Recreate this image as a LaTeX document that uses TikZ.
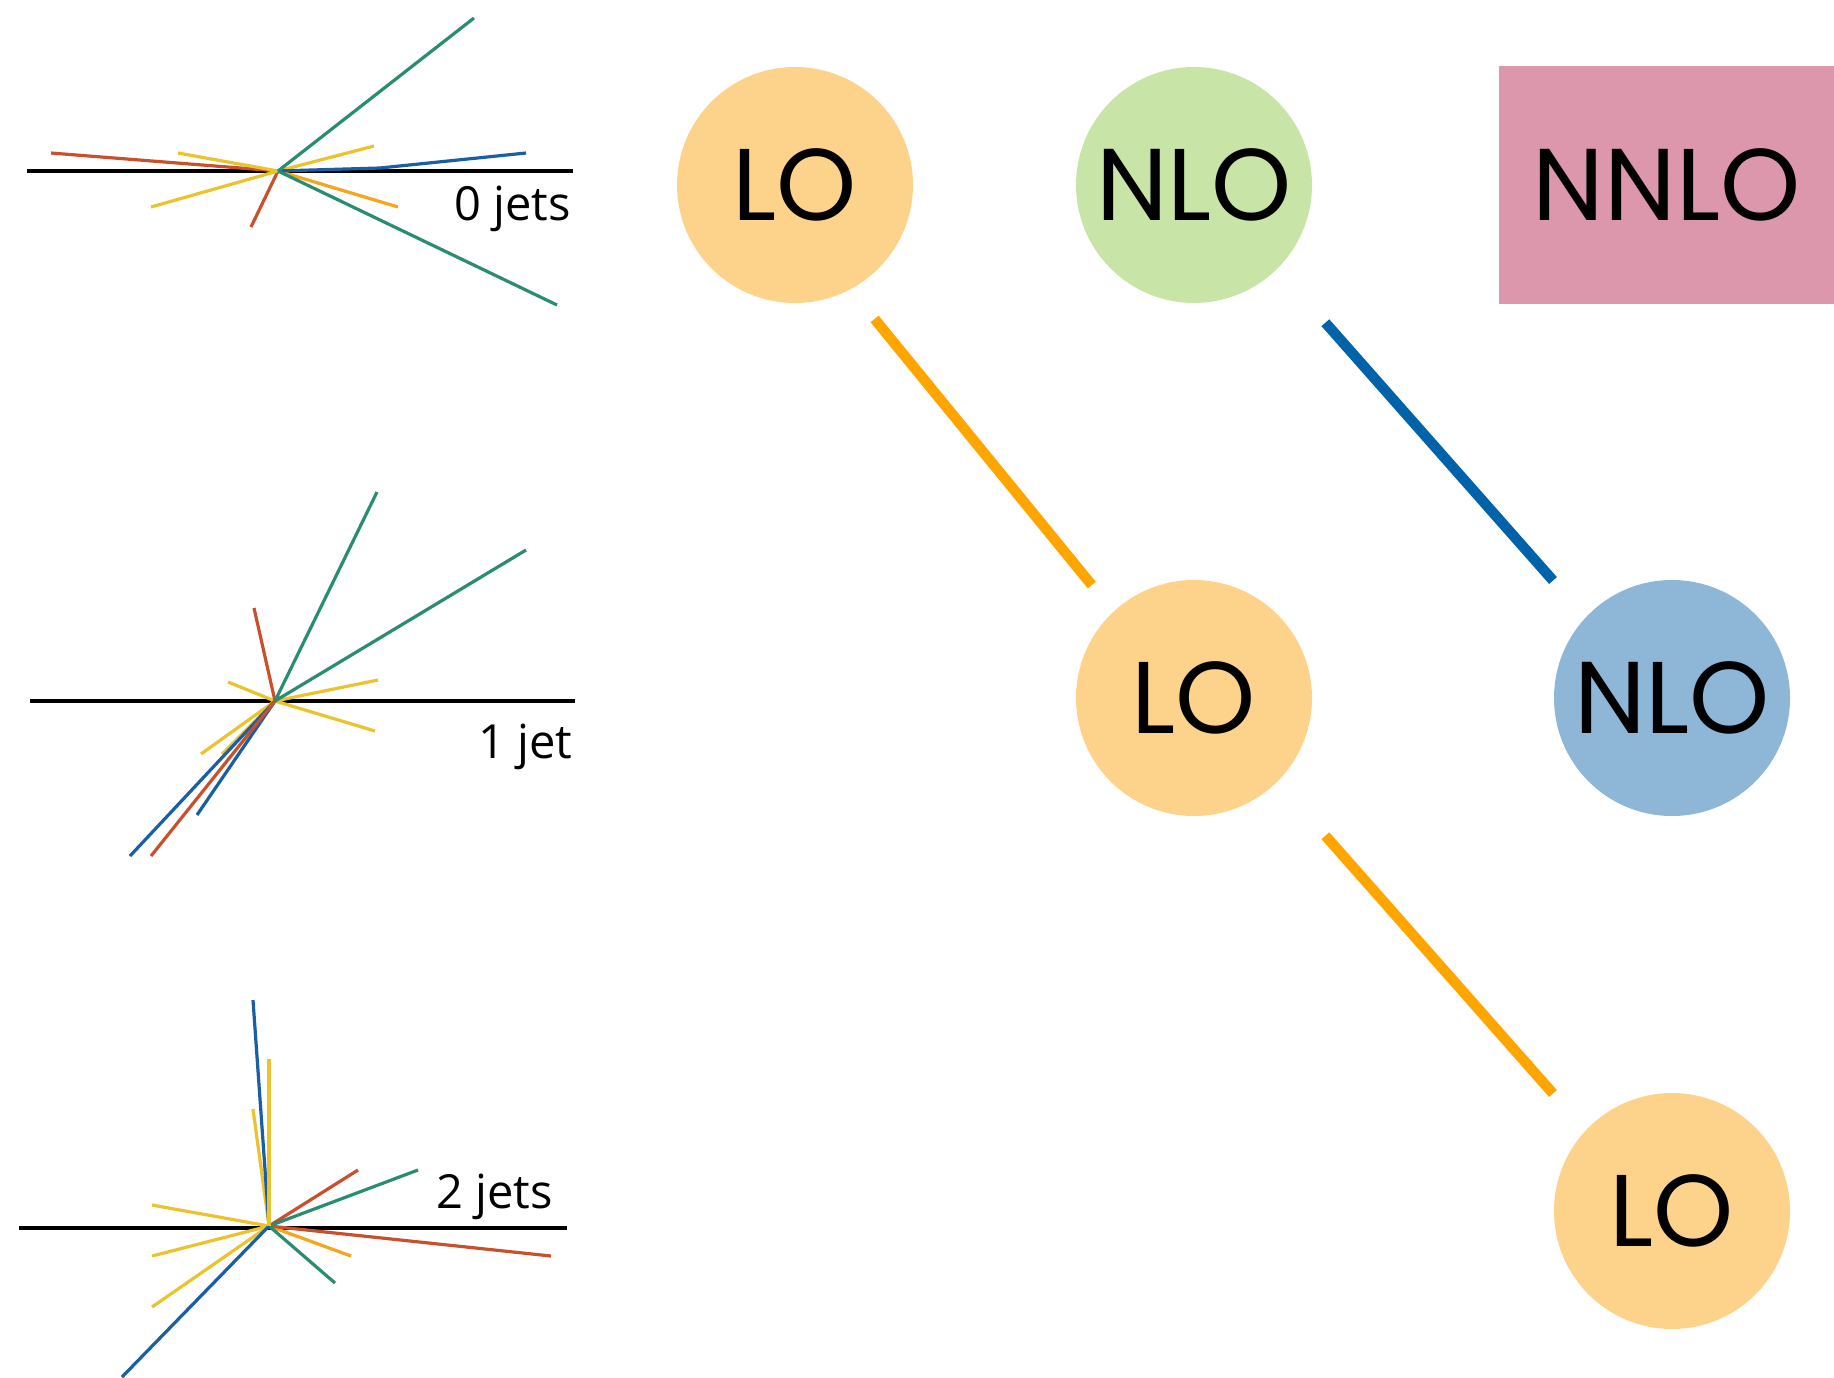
\documentclass[tikz,border=0pt]{standalone}
\usepackage{fontspec}
\setmainfont{Poppins}
\newfontfamily\jetfont{Open Sans}
\definecolor{lofill}{RGB}{253,211,140}
\definecolor{nlogreen}{RGB}{200,229,167}
\definecolor{nloblue}{RGB}{141,182,215}
\definecolor{nnlopink}{RGB}{220,151,172}
\definecolor{linkorange}{RGB}{255,165,0}
\definecolor{linkblue}{RGB}{0,99,170}
\definecolor{trkgreen}{RGB}{42,140,112}
\definecolor{trkred}{RGB}{200,80,45}
\definecolor{trkyellow}{RGB}{235,195,45}
\definecolor{trkorange}{RGB}{245,165,30}
\definecolor{trkblue}{RGB}{25,95,165}

\begin{document}
\begin{tikzpicture}[x=0.5pt,y=-0.5pt,node distance=256.5pt]
\tikzstyle{blob}=[circle, minimum size=118pt, inner sep=0pt, font=\fontsize{51}{51}\selectfont]
\tikzstyle{lo}=[blob, fill=lofill]
\tikzstyle{nlo}=[blob, fill=nlogreen]
\tikzstyle{nnlo}=[rectangle, minimum width=167.5pt, minimum height=119pt, inner sep=0pt, fill=nnlopink, font=\fontsize{51}{51}\selectfont]
\tikzstyle{oline}=[draw=linkorange, line width=5.2pt]
\tikzstyle{bline}=[draw=linkblue, line width=5.2pt]
\tikzstyle{axis}=[line width=1.8pt]
\tikzstyle{trk}=[line width=1.6pt]
\tikzstyle{jetlabel}=[anchor=base east, inner sep=0pt, font=\jetfont\fontsize{23.5}{24}\selectfont]

\useasboundingbox (0,0) rectangle (1834,1377);

% perturbative orders
\node (lo0) [lo] at (795,185) {LO};
\node (nlo0) [nlo,right of=lo0,node distance=199.5pt] {NLO};
\node (nnlo0) [nnlo,right of=nlo0,node distance=236.25pt] {NNLO};
\node (lo1) [lo,below of=nlo0] {LO};
\node (nlo1) [nlo,fill=nloblue,right of=lo1,node distance=239pt] {NLO};
\node (lo2) [lo,below of=nlo1] {LO};

\draw[oline,shorten <=19pt,shorten >=17pt] (lo0.-62) -- (lo1.133);
\draw[bline,shorten <=36pt,shorten >=24.5pt] (nlo0.-45) -- (nlo1.137);
\draw[oline,shorten <=36pt,shorten >=24.5pt] (lo1.-45) -- (lo2.137);

% 0 jets
\coordinate (v0) at (278,171);
\draw[axis] (27,171) -- (573,171);
\draw[trk,trkred] (v0) -- (51,153) (v0) -- (251,227);
\draw[trk,trkyellow] (v0) -- (178,153) (v0) -- (151,207) (v0) -- (374,146);
\draw[trk,trkorange] (v0) -- (398,207);
\draw[trk,trkblue] (v0) -- (380,168) -- (526,153);
\draw[trk,trkgreen] (v0) -- (474,18) (v0) -- (557,305);
\node[jetlabel] (lab0) at (571,220) {0 jets};

% 1 jet
\coordinate (v1) at (275,701);
\draw[axis] (30,701) -- (575,701);
\draw[trk,trkyellow] (v1) -- (228,682) (v1) -- (378,680) (v1) -- (375,731) (v1) -- (201,754) (v1) -- (222,754);
\draw[trk,trkblue] (v1) -- (130,856) (v1) -- (197,815);
\draw[trk,trkred] (v1) -- (254,608) (v1) -- (151,856);
\draw[trk,trkgreen] (v1) -- (377,492) (v1) -- (526,550);
\node[jetlabel] (lab1) at (573,758) {1 jet};

% 2 jets
\coordinate (v2) at (269,1226);
\draw[axis] (19,1228) -- (567,1228);
\draw[trk,trkyellow] (v2) -- (152,1205) (v2) -- (152,1256) (v2) -- (152,1307) (v2) -- (253,1109);
\draw[trk,trkorange] (v2) -- (351,1256);
\draw[trk,trkred] (v2) -- (358,1170) (v2) -- (551,1256);
\draw[trk,trkgreen] (v2) -- (418,1170) (v2) -- (335,1283);
\draw[trk,trkblue] (v2) -- (253,1000) (v2) -- (122,1377);
\draw[trk,trkyellow] (v2) -- (269,1059);
\node[jetlabel] (lab2) at (553,1208) {2 jets};
\end{tikzpicture}
\end{document}
